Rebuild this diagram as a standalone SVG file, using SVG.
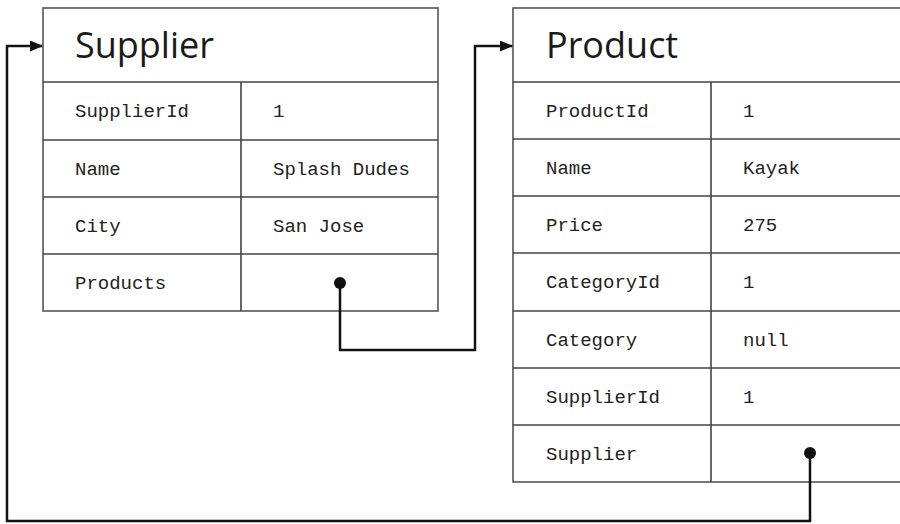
<svg xmlns="http://www.w3.org/2000/svg" width="900" height="524" viewBox="0 0 900 524">
<defs>
<style>
.tbl{fill:#fff;stroke:#555;stroke-width:1.6}
.ln{stroke:#444;stroke-width:1.6;fill:none}
.hdr{font-family:"Open Sans","Noto Sans",sans-serif;font-size:36px;fill:#1a1a1a}
.cell{font-family:"Liberation Mono","DejaVu Sans Mono",monospace;font-size:19px;fill:#222}
.conn{stroke:#111;stroke-width:2.5;fill:none}
</style>
<marker id="arr" markerWidth="13" markerHeight="11" refX="12" refY="5.5" orient="auto" markerUnits="userSpaceOnUse">
<path d="M0,0 L13,5.5 L0,11 z" fill="#111"/>
</marker>
</defs>
<rect width="900" height="524" fill="#fff"/>
<g id="supplier">
<rect class="tbl" x="43" y="8" width="395" height="303"/>
<path class="ln" d="M43 82H438M43 140H438M43 197H438M43 254H438M241 82V311"/>
<text class="hdr" x="75" y="58">Supplier</text>
<text class="cell" x="75" y="117">SupplierId</text>
<text class="cell" x="273" y="117">1</text>
<text class="cell" x="75" y="175">Name</text>
<text class="cell" x="273" y="175">Splash Dudes</text>
<text class="cell" x="75" y="232">City</text>
<text class="cell" x="273" y="232">San Jose</text>
<text class="cell" x="75" y="289">Products</text>
</g>
<g id="product">
<rect class="tbl" x="513" y="8" width="400" height="474"/>
<path class="ln" d="M513 82H913M513 139H913M513 196H913M513 253H913M513 311H913M513 368H913M513 425H913M711 82V482"/>
<text class="hdr" x="546" y="58">Product</text>
<text class="cell" x="546" y="117">ProductId</text>
<text class="cell" x="743" y="117">1</text>
<text class="cell" x="546" y="174">Name</text>
<text class="cell" x="743" y="174">Kayak</text>
<text class="cell" x="546" y="231">Price</text>
<text class="cell" x="743" y="231">275</text>
<text class="cell" x="546" y="288">CategoryId</text>
<text class="cell" x="743" y="288">1</text>
<text class="cell" x="546" y="346">Category</text>
<text class="cell" x="743" y="346">null</text>
<text class="cell" x="546" y="403">SupplierId</text>
<text class="cell" x="743" y="403">1</text>
<text class="cell" x="546" y="460">Supplier</text>
</g>
<g id="connectors">
<circle cx="340" cy="283" r="6" fill="#111"/>
<path class="conn" d="M340 283V350H475V46H512" marker-end="url(#arr)"/>
<circle cx="810" cy="453" r="6" fill="#111"/>
<path class="conn" d="M810 453V521H7V46H42" marker-end="url(#arr)"/>
</g>
</svg>
